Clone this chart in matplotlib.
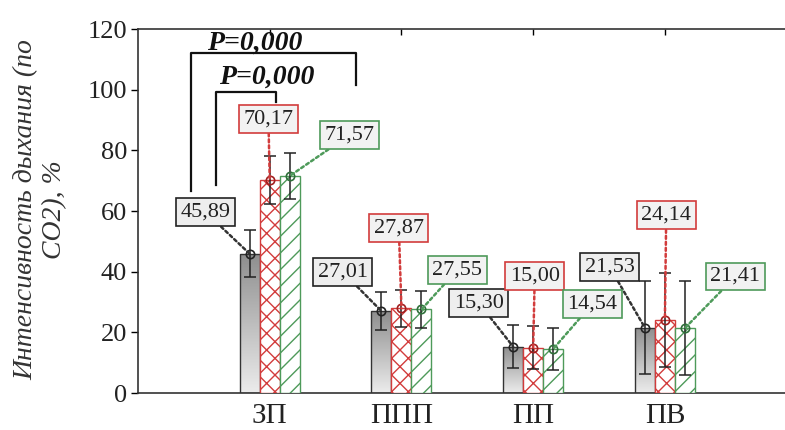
import numpy as np
import matplotlib
matplotlib.use("Agg")
import matplotlib.pyplot as plt
from matplotlib.colors import LinearSegmentedColormap

plt.rcParams['font.family'] = ['Liberation Serif', 'DejaVu Serif']
plt.rcParams['hatch.linewidth'] = 1.0

groups = ['ЗП', 'ППП', 'ПП', 'ПВ']

grey_vals = [45.89, 27.01, 15.30, 21.53]
red_vals = [70.17, 27.87, 15.00, 24.14]
green_vals = [71.57, 27.55, 14.54, 21.41]

grey_err = [7.7, 6.3, 7.0, 15.4]
red_err = [7.9, 6.0, 7.0, 15.5]
green_err = [7.6, 6.0, 7.0, 15.4]

# where each value box sits (x in category units, y in data units)
grey_box = [(-0.486, 59.6), (0.554, 39.9), (1.587, 29.7), (2.58, 41.6)]
red_box = [(-0.01, 90.4), (0.98, 54.5), (2.012, 38.6), (3.01, 58.6)]
green_box = [(0.607, 85.1), (1.424, 40.6), (2.45, 29.4), (3.535, 38.4)]

p_labels = ['P=0,000', 'P=0,000']

RED = '#d23c3c'
GREEN = '#4e9a5a'
DARK = '#222222'
W = 0.152


def fmt(v):
    return f'{v:.2f}'.replace('.', ',')


fig = plt.figure(figsize=(7.85, 4.3), dpi=100)
ax = fig.add_axes([0.1758, 0.086, 0.839, 0.8465])

x = np.arange(len(groups))

# grey bars with a vertical shade (dark top -> light bottom)
grey_cmap = LinearSegmentedColormap.from_list('g', ['#ececec', '#8e8e8e'])
grey_bars = ax.bar(x - W, grey_vals, W, facecolor='none', edgecolor='#333333',
                   linewidth=1.0, zorder=3)
grad = np.linspace(0, 1, 256).reshape(-1, 1)
for rect in grey_bars:
    x0 = rect.get_x()
    h = rect.get_height()
    im = ax.imshow(grad, extent=[x0, x0 + W, 0, h], origin='lower',
                   cmap=grey_cmap, aspect='auto', zorder=2)
    im.set_clip_path(rect)

ax.bar(x, red_vals, W, facecolor='white', edgecolor=RED, hatch='xx',
       linewidth=1.0, zorder=3)
ax.bar(x + W, green_vals, W, facecolor='white', edgecolor=GREEN, hatch='//',
       linewidth=1.0, zorder=3)

series = [
    (x - W, grey_vals, grey_err, grey_box, '#222222', '#222222', '#eeeeee'),
    (x, red_vals, red_err, red_box, '#a02020', RED, '#f2f2f2'),
    (x + W, green_vals, green_err, green_box, '#2f6f3a', GREEN, '#f2f2f2'),
]
for xs, vals, errs, boxes, mcol, bcol, face in series:
    ax.errorbar(xs, vals, yerr=errs, fmt='none', ecolor='#222222',
                elinewidth=1.1, capsize=4.5, capthick=1.1, zorder=4)
    ax.plot(xs, vals, 'o', mfc='none', mec=mcol, ms=6, mew=1.2, zorder=5)
    for xi, v, (bx, by) in zip(xs, vals, boxes):
        ax.annotate(fmt(v), xy=(xi, v), xytext=(bx, by), fontsize=16,
                    color=DARK, ha='center', va='center', zorder=6,
                    bbox=dict(boxstyle='square,pad=0.2', fc=face, ec=bcol, lw=1.2),
                    arrowprops=dict(arrowstyle='-', linestyle=(0, (1.2, 1.2)),
                                    color=bcol if bcol != '#222222' else '#333333',
                                    lw=1.8, shrinkA=0, shrinkB=0))

# significance brackets
ax.plot([-0.595, -0.595, 0.653, 0.653], [66.5, 112.1, 112.1, 101.6],
        color='#111111', lw=1.6, zorder=4)
ax.plot([-0.405, -0.405, 0.051, 0.051], [68.6, 99.4, 99.4, 96.1],
        color='#111111', lw=1.6, zorder=4)
ax.text(-0.114, 115.3, p_labels[0], fontsize=20, fontweight='bold',
        style='italic', ha='center', va='center', color='#111111')
ax.text(-0.025, 104.0, p_labels[1], fontsize=20, fontweight='bold',
        style='italic', ha='center', va='center', color='#111111')

ax.set_xlim(-1, 4)
ax.set_ylim(0, 120)
ax.set_yticks(np.arange(0, 121, 20))
ax.set_xticks(x)
ax.set_xticklabels(groups, fontsize=21, color=DARK)
ax.tick_params(axis='y', direction='out', length=5, width=1.0,
               labelsize=19, labelcolor=DARK, pad=3)
ax.xaxis.set_tick_params(bottom=False, top=True, direction='in', length=4,
                         width=1.0, pad=7)
for sp in ax.spines.values():
    sp.set_color('#333333')
    sp.set_linewidth(1.2)

fig.text(40 / 785, 1 - 210 / 430, 'Интенсивность дыхания (по\nCO2), %',
         rotation=90, ha='center', va='center', fontsize=20, style='italic',
         color='#333333', multialignment='center')

fig.savefig('out.png', dpi=100)
